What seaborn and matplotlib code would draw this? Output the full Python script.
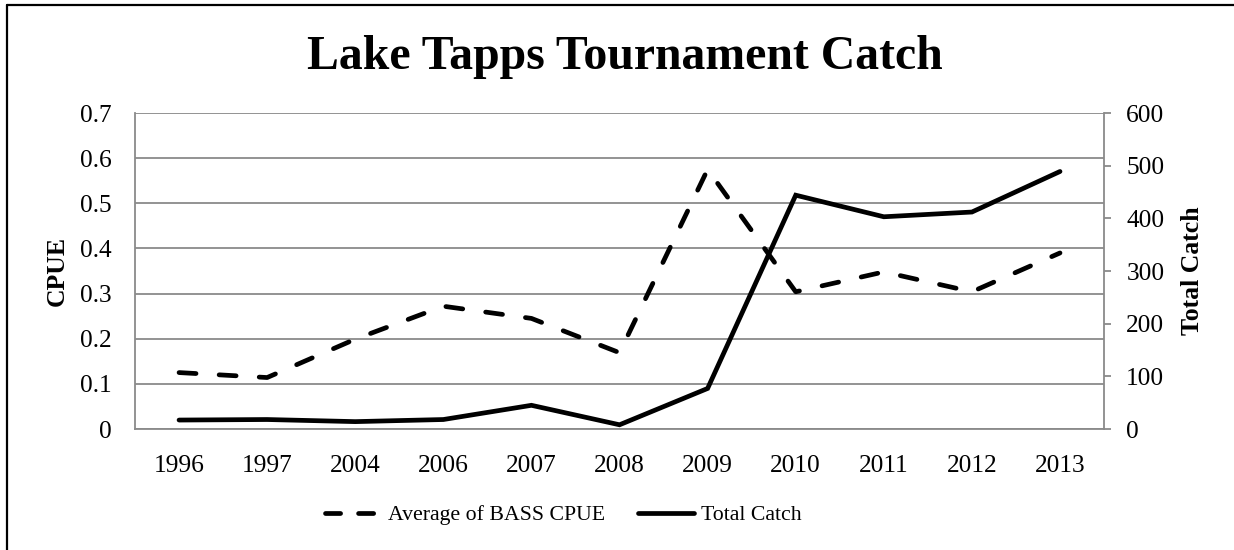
import matplotlib
matplotlib.use("Agg")
import matplotlib.pyplot as plt
from matplotlib.lines import Line2D
import pandas as pd
import seaborn as sns

# Tournament years and results
years = ["1996", "1997", "2004", "2006", "2007", "2008", "2009", "2010", "2011", "2012", "2013"]
bass_cpue = [0.125, 0.114, 0.199, 0.272, 0.245, 0.169, 0.575, 0.304, 0.348, 0.304, 0.39]
total_catch = [17, 18, 14, 18, 45, 8, 77, 444, 403, 412, 489]

cpue_ticks = [0, 0.1, 0.2, 0.3, 0.4, 0.5, 0.6, 0.7]
cpue_tick_labels = ["0", "0.1", "0.2", "0.3", "0.4", "0.5", "0.6", "0.7"]
catch_ticks = [0, 100, 200, 300, 400, 500, 600]

df = pd.DataFrame({"Year": years, "CPUE": bass_cpue, "Catch": total_catch})

sns.set_theme(style="white")
plt.rcParams["font.family"] = ["Liberation Serif", "DejaVu Serif"]
plt.rcParams["text.color"] = "black"
plt.rcParams["axes.labelcolor"] = "black"
plt.rcParams["xtick.color"] = "black"
plt.rcParams["ytick.color"] = "black"

GRID = "#8a8a8a"
TICK_FS = 18.3
fig = plt.figure(figsize=(12.34, 5.5), dpi=100)
ax = fig.add_axes([0.1094, 0.22, 0.7853, 0.5745])
ax2 = ax.twinx()

lw = 3.4
sns.lineplot(data=df, x="Year", y="CPUE", ax=ax, color="black", linewidth=lw,
             sort=False, legend=False)
ax.lines[0].set_dashes([3.6, 4.9])
ax.lines[0].set_dash_capstyle("round")
sns.lineplot(data=df, x="Year", y="Catch", ax=ax2, color="black", linewidth=lw,
             sort=False, legend=False)
ax2.lines[0].set_solid_joinstyle("miter")

ax.set_xlim(-0.5, len(years) - 0.5)
ax.set_ylim(0, 0.7)
ax2.set_ylim(0, 600)

ax.set_yticks(cpue_ticks)
ax.set_yticklabels(cpue_tick_labels)
ax2.set_yticks(catch_ticks)
ax2.set_yticklabels([str(v) for v in catch_ticks])

ax.yaxis.grid(True, color=GRID, linewidth=1.3)
ax.set_axisbelow(True)
ax2.grid(False)

for a in (ax, ax2):
    a.spines["top"].set_visible(False)
    for side in ("left", "right", "bottom"):
        a.spines[side].set_color(GRID)
        a.spines[side].set_linewidth(1.3)

ax.spines["right"].set_visible(False)
ax2.spines["left"].set_visible(False)
ax2.spines["bottom"].set_visible(False)

ax.tick_params(axis="y", length=0, labelsize=TICK_FS, pad=17)
ax.tick_params(axis="x", length=0, labelsize=TICK_FS, pad=19)
ax2.tick_params(axis="y", length=5, width=1.3, color=GRID, labelsize=TICK_FS,
                pad=11, labelcolor="black", direction="out")

ax.set_xlabel("")
ax.set_ylabel("CPUE", fontsize=18.5, fontweight="bold", labelpad=8)
ax2.set_ylabel("Total Catch", fontsize=18.5, fontweight="bold", labelpad=12)

fig.suptitle("Lake Tapps Tournament Catch", fontsize=34.4, fontweight="bold",
             x=0.506, y=0.897, va="center")

handles = [
    Line2D([], [], color="black", linewidth=lw, dashes=[3.2, 3.8],
           dash_capstyle="round"),
    Line2D([], [], color="black", linewidth=lw),
]
fig.legend(handles, ["Average of BASS CPUE", "Total Catch"], loc="center",
           bbox_to_anchor=(0.4565, 0.063), ncol=2, frameon=False,
           fontsize=15.7, handlelength=2.55, handletextpad=0.3,
           columnspacing=1.55)

# Frame along the left and top edges of the figure
fig.add_artist(Line2D([0.0057, 0.0057], [0, 0.991], transform=fig.transFigure,
                      color="black", linewidth=1.6))
fig.add_artist(Line2D([0.0057, 1.0], [0.991, 0.991], transform=fig.transFigure,
                      color="black", linewidth=1.6))

fig.savefig("out.png", dpi=100, facecolor="white")
